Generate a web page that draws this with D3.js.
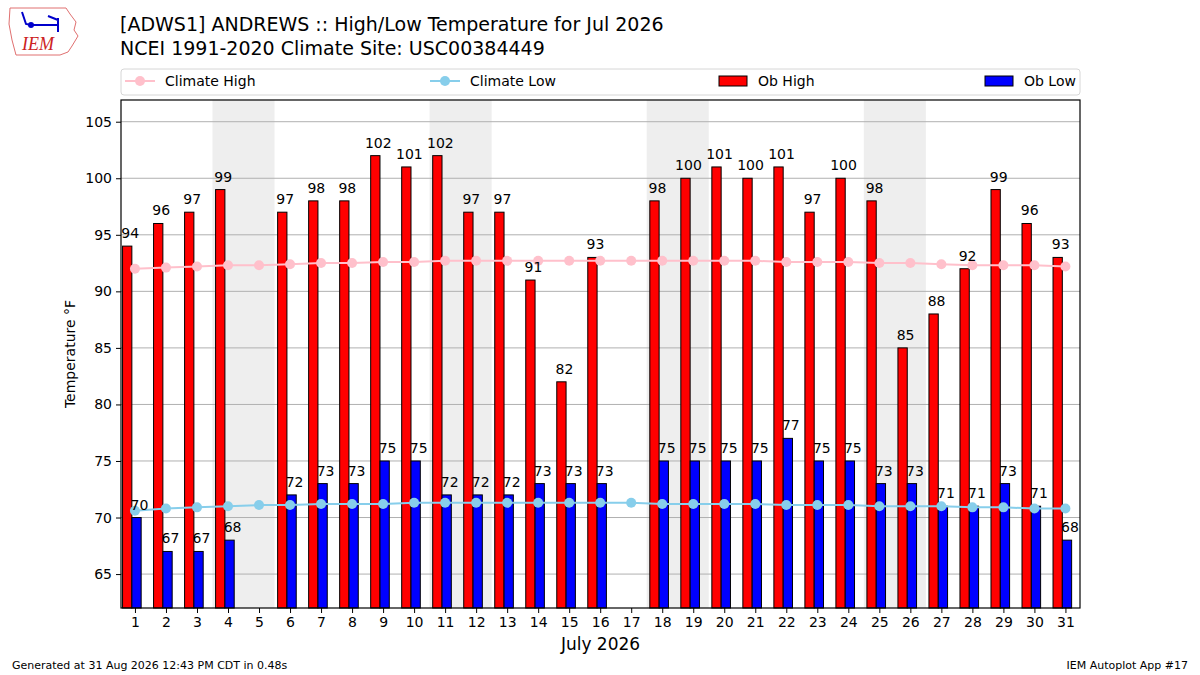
<!DOCTYPE html>
<html>
<head>
<meta charset="utf-8">
<script src="https://cdn.jsdelivr.net/npm/d3@7"></script>
<style>
  body { margin: 0; background: #fff; }
  svg { font-family: "DejaVu Sans", sans-serif; }
</style>
</head>
<body>
<div id="chart"></div>
<script>
// data
var days = d3.range(1, 32);
var obHigh = [94,96,97,99,null,97,98,98,102,101,102,97,97,91,82,93,null,98,100,101,100,101,97,100,98,85,88,92,99,96,93];
var obLow  = [70,67,67,68,null,72,73,73,75,75,72,72,72,73,73,73,null,75,75,75,75,77,75,75,73,73,71,71,73,71,68];
var climHigh = [92.0,92.1,92.2,92.3,92.3,92.4,92.5,92.5,92.6,92.6,92.7,92.7,92.7,92.7,92.7,92.7,92.7,92.7,92.7,92.7,92.7,92.6,92.6,92.6,92.5,92.5,92.4,92.3,92.3,92.3,92.2];
var climLow  = [70.6,70.8,70.9,71.0,71.1,71.1,71.2,71.2,71.2,71.3,71.3,71.3,71.3,71.3,71.3,71.3,71.3,71.2,71.2,71.2,71.2,71.1,71.1,71.1,71.0,71.0,71.0,70.9,70.9,70.8,70.8];
var weekendStarts = [4, 11, 18, 25];
var yTicks = [65, 70, 75, 80, 85, 90, 95, 100, 105];

var width = 1200, height = 675;
var pLeft = 121, pRight = 1080, pTop = 100, pBottom = 608;

var svg = d3.select("#chart").append("svg")
    .attr("width", width)
    .attr("height", height);

var x = d3.scaleLinear().domain([0.55, 31.47]).range([pLeft, pRight]);
var y = d3.scaleLinear().domain([62, 106.92]).range([pBottom, pTop]);

// weekend shading
svg.selectAll(".wk")
    .data(weekendStarts)
    .enter().append("rect")
    .attr("x", function(d) { return x(d - 0.5); })
    .attr("y", pTop)
    .attr("width", function(d) { return x(d + 1.5) - x(d - 0.5); })
    .attr("height", pBottom - pTop)
    .attr("fill", "#eeeeee");

// grid
svg.selectAll(".grid")
    .data(yTicks)
    .enter().append("line")
    .attr("x1", pLeft).attr("x2", pRight)
    .attr("y1", function(d) { return y(d); })
    .attr("y2", function(d) { return y(d); })
    .attr("stroke", "#b0b0b0")
    .attr("stroke-width", 1);

var highData = days.map(function(d, i) { return {day: d, v: obHigh[i]}; }).filter(function(d) { return d.v !== null; });
var lowData = days.map(function(d, i) { return {day: d, v: obLow[i]}; }).filter(function(d) { return d.v !== null; });

// bars
svg.selectAll(".hi")
    .data(highData)
    .enter().append("rect")
    .attr("x", function(d) { return x(d.day - 0.4); })
    .attr("y", function(d) { return y(d.v); })
    .attr("width", function(d) { return x(d.day - 0.1) - x(d.day - 0.4); })
    .attr("height", function(d) { return pBottom - y(d.v); })
    .attr("fill", "red")
    .attr("stroke", "#000")
    .attr("stroke-width", 1);

svg.selectAll(".lo")
    .data(lowData)
    .enter().append("rect")
    .attr("x", function(d) { return x(d.day - 0.1); })
    .attr("y", function(d) { return y(d.v); })
    .attr("width", function(d) { return x(d.day + 0.2) - x(d.day - 0.1); })
    .attr("height", function(d) { return pBottom - y(d.v); })
    .attr("fill", "blue")
    .attr("stroke", "#000")
    .attr("stroke-width", 1);

// climate lines
function climLine(vals, color) {
    var pts = days.map(function(d, i) { return [d, vals[i]]; });
    svg.append("path")
        .datum(pts)
        .attr("d", d3.line().x(function(d) { return x(d[0]); }).y(function(d) { return y(d[1]); }))
        .attr("fill", "none")
        .attr("stroke", color)
        .attr("stroke-width", 2);
    svg.selectAll(null)
        .data(pts)
        .enter().append("circle")
        .attr("cx", function(d) { return x(d[0]); })
        .attr("cy", function(d) { return y(d[1]); })
        .attr("r", 5)
        .attr("fill", color);
}
climLine(climHigh, "pink");
climLine(climLow, "skyblue");

// value labels
svg.selectAll(".hil")
    .data(highData)
    .enter().append("text")
    .attr("x", function(d) { return x(d.day - 0.25) + 3; })
    .attr("y", function(d) { return y(d.v) - 8; })
    .attr("text-anchor", "middle")
    .attr("font-size", 14)
    .text(function(d) { return d.v; });

svg.selectAll(".lol")
    .data(lowData)
    .enter().append("text")
    .attr("x", function(d) { return x(d.day + 0.05) + 3; })
    .attr("y", function(d) { return y(d.v) - 8; })
    .attr("text-anchor", "middle")
    .attr("font-size", 14)
    .text(function(d) { return d.v; });

// axes
svg.append("g")
    .attr("transform", "translate(0," + pBottom + ")")
    .call(d3.axisBottom(x).tickValues(days).tickFormat(d3.format("d")).tickSizeOuter(0).tickSize(5).tickPadding(4));
svg.append("g")
    .attr("transform", "translate(" + pLeft + ",0)")
    .call(d3.axisLeft(y).tickValues(yTicks).tickSizeOuter(0).tickSize(5).tickPadding(4));
svg.selectAll(".tick text").attr("font-size", 14).attr("font-family", "DejaVu Sans").attr("fill", "#000");
svg.selectAll(".domain").remove();
svg.selectAll(".tick line").attr("stroke", "#000");

svg.append("rect")
    .attr("x", pLeft).attr("y", pTop)
    .attr("width", pRight - pLeft).attr("height", pBottom - pTop)
    .attr("fill", "none").attr("stroke", "#000").attr("stroke-width", 1.2);

svg.append("text")
    .attr("x", (pLeft + pRight) / 2).attr("y", 650)
    .attr("text-anchor", "middle").attr("font-size", 17)
    .text("July 2026");

svg.append("text")
    .attr("transform", "translate(75," + (pTop + pBottom) / 2 + ") rotate(-90)")
    .attr("text-anchor", "middle").attr("font-size", 14)
    .text("Temperature °F");

// titles
svg.append("text").attr("x", 120).attr("y", 31).attr("font-size", 19)
    .text("[ADWS1] ANDREWS :: High/Low Temperature for Jul 2026");
svg.append("text").attr("x", 120).attr("y", 55).attr("font-size", 19)
    .text("NCEI 1991-2020 Climate Site: USC00384449");

// legend
var lg = svg.append("g");
lg.append("rect")
    .attr("x", pLeft).attr("y", 69).attr("width", pRight - pLeft).attr("height", 26)
    .attr("rx", 3).attr("fill", "#fff").attr("stroke", "#d6d6d6");
[[125, "pink", "Climate High"], [430, "skyblue", "Climate Low"]].forEach(function(e) {
    lg.append("line").attr("x1", e[0]).attr("x2", e[0] + 30).attr("y1", 81).attr("y2", 81)
        .attr("stroke", e[1]).attr("stroke-width", 2);
    lg.append("circle").attr("cx", e[0] + 15).attr("cy", 81).attr("r", 5).attr("fill", e[1]);
    lg.append("text").attr("x", e[0] + 40).attr("y", 86).attr("font-size", 14).text(e[2]);
});
[[719, "red", "Ob High"], [985, "blue", "Ob Low"]].forEach(function(e) {
    lg.append("rect").attr("x", e[0]).attr("y", 76).attr("width", 28).attr("height", 10)
        .attr("fill", e[1]).attr("stroke", "#000").attr("stroke-width", 1);
    lg.append("text").attr("x", e[0] + 39).attr("y", 86).attr("font-size", 14).text(e[2]);
});

// footer
svg.append("text").attr("x", 12).attr("y", 669).attr("font-size", 11)
    .text("Generated at 31 Aug 2026 12:43 PM CDT in 0.48s");
svg.append("text").attr("x", 1188).attr("y", 669).attr("font-size", 11).attr("text-anchor", "end")
    .text("IEM Autoplot App #17");

// logo (rough IEM mark)
var logo = svg.append("g");
logo.append("path")
    .attr("d", "M10,8 L66,8 L70,14 L76,22 L74,30 L78,36 L72,46 L68,52 L60,55 L16,55 L12,40 L9,24 Z")
    .attr("fill", "none").attr("stroke", "#e07070").attr("stroke-width", 1);
logo.append("path")
    .attr("d", "M31,25 L58,25 M58,18 L58,32 M48,16 L58,20 M22,12 L26,24 L31,25")
    .attr("fill", "none").attr("stroke", "#0000cc").attr("stroke-width", 2);
logo.append("circle").attr("cx", 31).attr("cy", 25).attr("r", 3).attr("fill", "#0000cc");
logo.append("text").attr("x", 22).attr("y", 50).attr("font-family", "Liberation Serif")
    .attr("font-style", "italic").attr("font-size", 18).attr("fill", "#cc2222").text("IEM");
</script>
</body>
</html>
